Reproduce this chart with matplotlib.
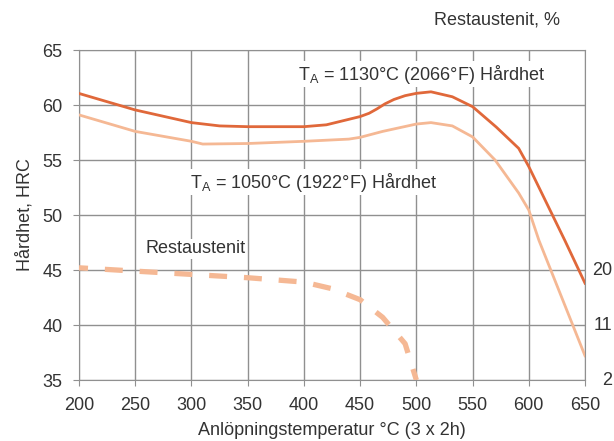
import matplotlib.pyplot as plt

plt.rcParams['font.family'] = ['Liberation Sans', 'DejaVu Sans']

# Hårdhet, TA = 1130°C
x_1130 = [200, 250, 300, 325, 350, 400, 420, 440, 450, 458, 465, 472, 480, 490,
          500, 513, 532, 550, 571, 591, 600, 632, 650]
y_1130 = [61.05, 59.55, 58.4, 58.1, 58.03, 58.03, 58.2, 58.7, 58.95, 59.25, 59.65,
          60.1, 60.5, 60.85, 61.06, 61.2, 60.75, 59.85, 58.0, 56.06, 54.4, 47.7, 43.8]

# Hårdhet, TA = 1050°C
x_1050 = [200, 250, 300, 310, 350, 400, 440, 450, 470, 500, 513, 532, 550, 570,
          591, 600, 609, 650]
y_1050 = [59.1, 57.6, 56.7, 56.45, 56.5, 56.7, 56.9, 57.06, 57.6, 58.27, 58.4,
          58.1, 57.1, 55.0, 52.0, 50.45, 47.7, 37.2]

# Restaustenit (ritad på hårdhetsskalan)
x_ra = [200, 250, 300, 350, 400, 425, 450, 470, 490, 500]
y_ra = [45.2, 44.9, 44.6, 44.3, 43.9, 43.3, 42.3, 40.7, 38.3, 35.0]

ra_pos = [45, 40, 35]
ra_labels = ["20", "11", "2"]

dark = "#E0683A"
light = "#F5B894"
txt = "#333333"

fig = plt.figure(figsize=(6.14, 4.41), dpi=100)
ax = fig.add_axes([0.1287, 0.1383, 0.8241, 0.7483])

ax.plot(x_1130, y_1130, color=dark, lw=2.0, zorder=3)
ax.plot(x_1050, y_1050, color=light, lw=2.0, zorder=3)
ax.plot(x_ra, y_ra, color=light, lw=3.8, linestyle=(1.7, (3.4, 3.2)), zorder=3)

ax.set_xlim(200, 650)
ax.set_ylim(35, 65)
ax.set_xticks(range(200, 651, 50))
ax.set_yticks(range(35, 66, 5))
ax.grid(True, color="#909090", lw=1.0)
ax.set_axisbelow(True)
for s in ax.spines.values():
    s.set_color("#909090")
ax.tick_params(colors="#909090", labelcolor=txt, labelsize=13, length=4)
ax.tick_params(axis="x", pad=8)
ax.tick_params(axis="y", pad=8)

ax.set_xlabel("Anlöpningstemperatur °C (3 x 2h)", fontsize=13, color=txt, labelpad=6)
ax.set_ylabel("Hårdhet, HRC", fontsize=13, color=txt, labelpad=6)

# Högeraxel: restaustenit
for p, l in zip(ra_pos, ra_labels):
    ax.text(1.0 + 27 / 506, p, l, transform=ax.get_yaxis_transform(),
            fontsize=13, color=txt, va="center", ha="right")
ax.text(0.9506, 1.091, "Restaustenit, %", transform=ax.transAxes,
        fontsize=13, color=txt, ha="right", va="center")

box = dict(facecolor="white", edgecolor="none", pad=1)
ax.text(395, 62.8, r"T$_{\mathregular{A}}$ = 1130°C (2066°F) Hårdhet",
        fontsize=13, color=txt, va="center", bbox=box)
ax.text(299, 53.0, r"T$_{\mathregular{A}}$ = 1050°C (1922°F) Hårdhet",
        fontsize=13, color=txt, va="center", bbox=box)
ax.text(259, 46.95, "Restaustenit", fontsize=13, color=txt, va="center", bbox=box)

fig.savefig("out.png", dpi=100)
